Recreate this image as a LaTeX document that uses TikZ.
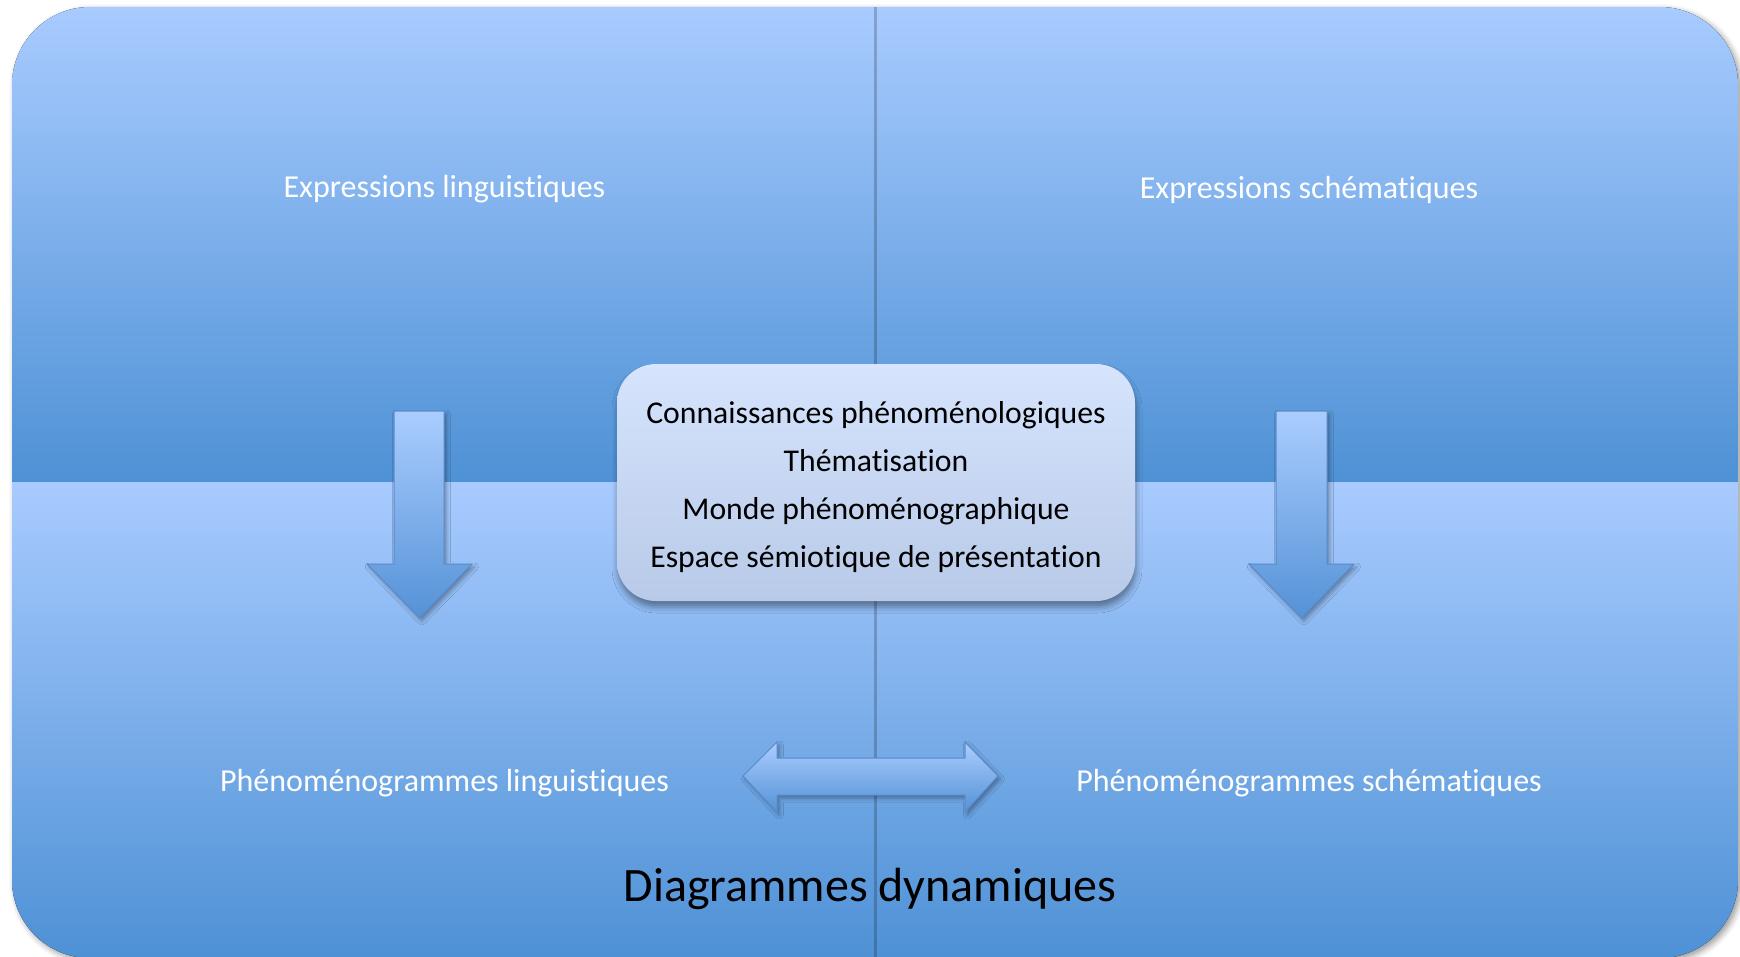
\documentclass[tikz,border=0pt]{standalone}
\usepackage{fontspec}
\setmainfont{Carlito}[Ligatures=NoCommon]
\usetikzlibrary{shadows.blur}
\definecolor{qtop}{RGB}{168,203,255}
\definecolor{qbot}{RGB}{78,145,213}
\definecolor{btop}{RGB}{214,228,253}
\definecolor{bbot}{RGB}{184,202,232}
\definecolor{atop}{RGB}{170,205,255}
\definecolor{abot}{RGB}{84,146,214}
\definecolor{aline}{RGB}{90,138,200}
\begin{document}
\begin{tikzpicture}[x=0.5pt,y=-0.5pt,
  quad/.style={top color=qtop,bottom color=qbot,draw=none},
  blockarrow/.style={top color=atop,bottom color=abot,draw=aline,line width=0.5pt,line join=miter,
    blur shadow={shadow xshift=1.2pt,shadow yshift=-1.5pt,shadow blur radius=2pt,shadow opacity=35}},
  lbl/.style={text=white,font=\fontsize{16}{19}\selectfont,inner sep=0pt},
  cbox/.style={rounded corners=19.5pt,top color=btop,bottom color=bbot,draw=none,
    blur shadow={shadow xshift=0.5pt,shadow yshift=-3pt,shadow blur radius=3pt,shadow opacity=40}},
  ctext/.style={align=center,font=\fontsize{15.85}{23.9}\selectfont,text=black,inner sep=0pt},
  ttl/.style={text=black,font=\fontsize{24}{28}\selectfont,inner sep=0pt}]
\useasboundingbox (0,0) rectangle (1740,957);
% outer shadow
\path[rounded corners=39pt,blur shadow={shadow xshift=1.5pt,shadow yshift=-1.5pt,shadow blur radius=3pt,shadow opacity=40}]
  (12,7) rectangle (1738,958);
% quadrants
\begin{scope}
  \clip[rounded corners=39pt] (12,7) rectangle (1738,958);
  \fill[quad] (12,7) rectangle (876,482.5);
  \fill[quad] (876,7) rectangle (1738,482.5);
  \fill[quad] (12,482.5) rectangle (876,958);
  \fill[quad] (876,482.5) rectangle (1738,958);
  \draw[black,opacity=0.2,line width=1.2pt] (875.5,7) -- (875.5,958);
\end{scope}
% labels
\node[lbl] (tl) at (444.5,189.5) {Expressions linguistiques};
\node[lbl] (tr) at (1309,189.5) {Expressions schématiques};
\node[lbl] (bl) at (444.5,783.5) {Phénoménogrammes linguistiques};
\node[lbl] (br) at (1309,783.5) {Phénoménogrammes schématiques};
% down arrows
\path[blockarrow] (394,411) -- (444,411) -- (444,564) -- (472,564) -- (419.5,618) -- (367,564) -- (394,564) -- cycle;
\path[blockarrow] (1276,411) -- (1327,411) -- (1327,564) -- (1354,564) -- (1301.5,618) -- (1249,564) -- (1276,564) -- cycle;
% centre box
\path[cbox] (617,364) rectangle (1135,601);
\node[ctext] (centre) at (876,487) {Connaissances phénoménologiques\\Thématisation\\Monde phénoménographique\\Espace sémiotique de présentation};
% double arrow
\path[blockarrow] (743,776) -- (777,742) -- (777,758) -- (965,758) -- (965,742) -- (998,776) -- (965,812) -- (965,795) -- (777,795) -- (777,812) -- cycle;
% title
\node[ttl] (title) at (870,889) {Diagrammes dynamiques};
\end{tikzpicture}
\end{document}
